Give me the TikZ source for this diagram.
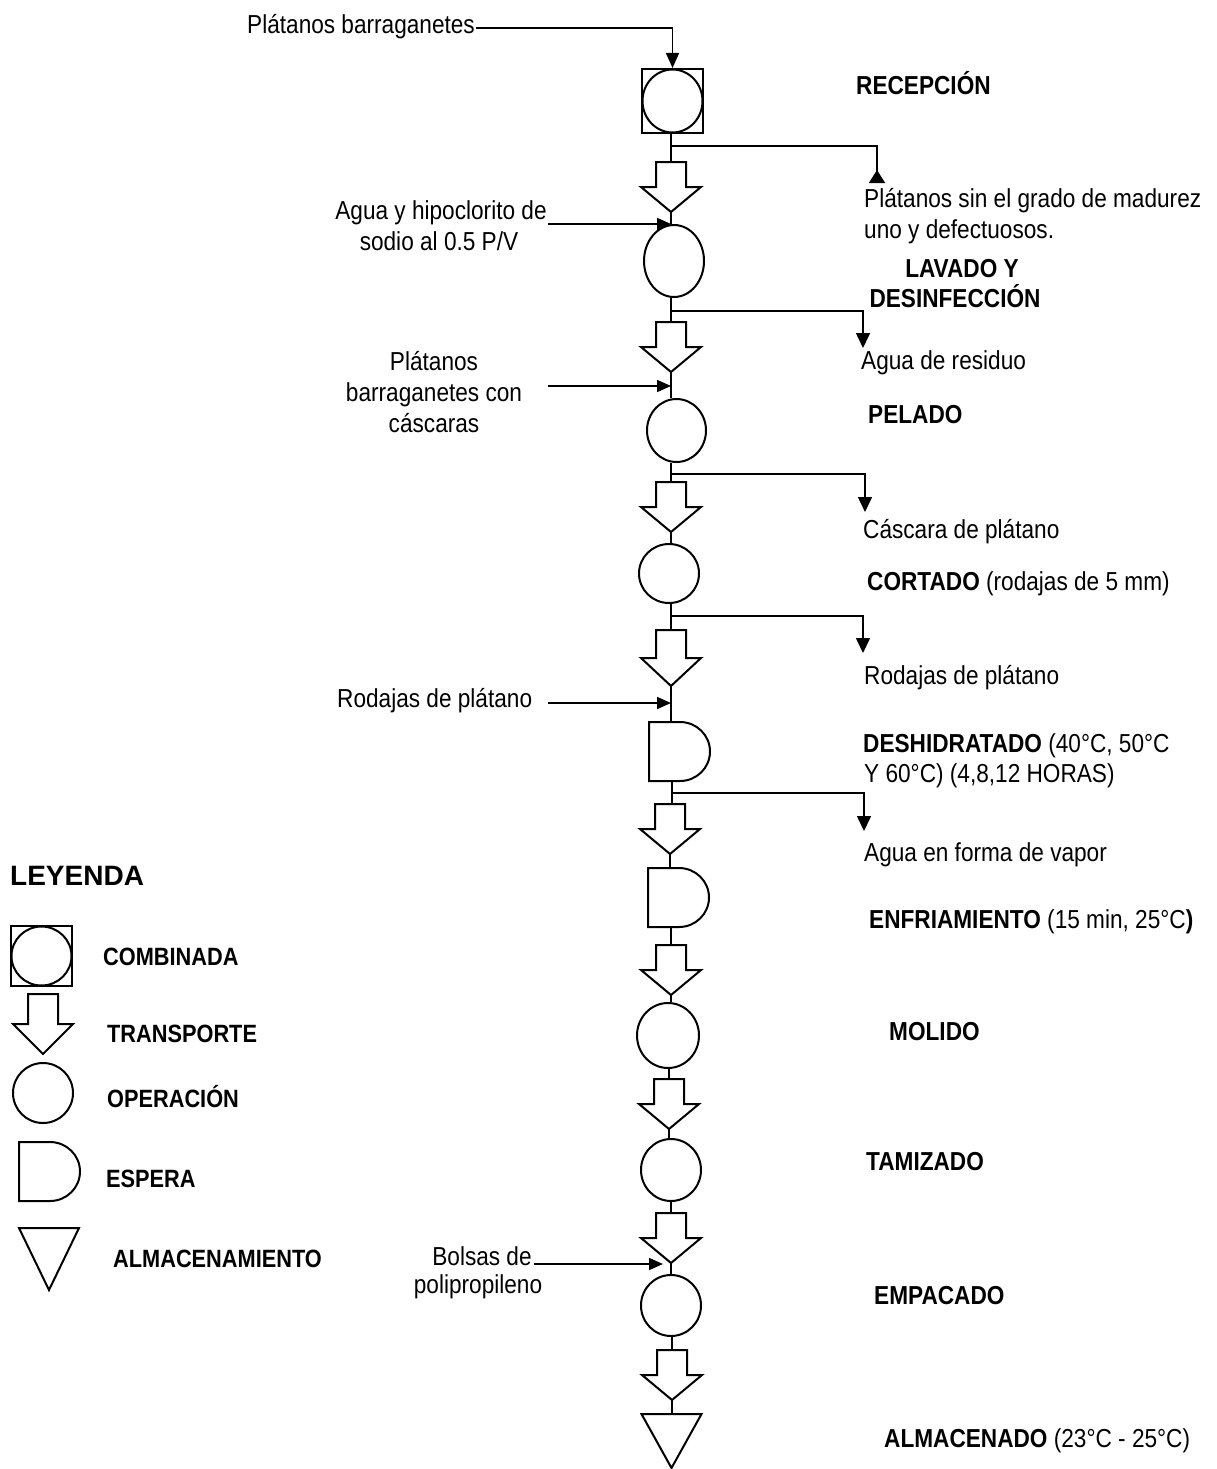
\documentclass[tikz,border=0pt]{standalone}
\usepackage{fontspec}
\setmainfont[FakeStretch=0.87]{Liberation Sans}
\newfontfamily\legfont{Liberation Sans}
\usetikzlibrary{shapes.geometric,arrows.meta}
\newcommand\fsz{\fontsize{26}{30}\selectfont}
\newcommand\fsl{\fontsize{25}{28}\selectfont}
\tikzset{
  shp/.style={draw,line width=2pt},
  opn/.style={shp,ellipse,inner sep=0pt},
  ln/.style={draw,line width=1.6pt},
  inarr/.style={ln,-{Triangle[length=14pt,width=12pt]}},
  inarrtop/.style={ln,-{Triangle[length=15pt,width=13pt]}},
  outarr/.style={ln,-{Triangle[length=15pt,width=14pt]}},
  revarr/.style={ln,-{Triangle[reversed,length=13pt,width=16pt]}},
  txt/.style={font=\fsz,inner sep=0pt,anchor=base west},
  txtc/.style={font=\fsz,inner sep=0pt,anchor=base},
  lab/.style={font=\fsz\bfseries,inner sep=0pt,anchor=base west},
  labc/.style={font=\fsz\bfseries,inner sep=0pt,anchor=base},
  leg/.style={font=\fsl\bfseries,inner sep=0pt,anchor=base west},
  transp/.pic={
    \draw[shp] (-15,0) -- (15,0) -- (15,#1) -- (30,#1) -- (0,2*#1) -- (-30,#1) -- (-15,#1) -- cycle;
    \coordinate (-n) at (0,0);
    \coordinate (-s) at (0,2*#1);
  },
  esp/.pic={
    \draw[shp] (-23,0) -- (8,0) arc[start angle=-90,end angle=90,x radius=30,y radius=29.5] -- (-23,59) -- cycle;
    \coordinate (-n) at (0,0);
    \coordinate (-s) at (0,59);
  },
  store/.pic={
    \draw[shp] (-30,0) -- (30,0) -- (0,#1) -- cycle;
    \coordinate (-n) at (0,0);
  }
}
\begin{document}
\begin{tikzpicture}[x=1pt,y=-1pt]
\fill[white] (0,0) rectangle (1216,1469);
\useasboundingbox (0,0) rectangle (1216,1469);

% ---------- main column ----------
\node[shp,minimum width=61pt,minimum height=64pt,inner sep=0pt] (rec) at (672.5,101) {};
\node[opn,minimum width=60pt,minimum height=63pt] (recc) at (rec.center) {};
\pic (t1) at (671,162) {transp=25};
\node[opn,minimum width=60pt,minimum height=72pt] (o1) at (674,261) {};
\pic (t2) at (671,322) {transp=25};
\node[opn,minimum width=59pt,minimum height=63pt] (o2) at (676.5,430.5) {};
\pic (t3) at (671,482) {transp=25};
\node[opn,minimum width=60pt,minimum height=59pt] (o3) at (669,573.5) {};
\pic (t4) at (671,630) {transp=28};
\pic (d1) at (672,722) {esp};
\pic (t5) at (670,804) {transp=25};
\pic (d2) at (671,868) {esp};
\pic (t6) at (671,945) {transp=25};
\node[opn,minimum width=62pt,minimum height=65pt] (o4) at (668,1035.5) {};
\pic (t7) at (669,1079) {transp=25};
\node[opn,minimum width=60pt,minimum height=62pt] (o5) at (671,1170) {};
\pic (t8) at (671,1213) {transp=25};
\node[opn,minimum width=60pt,minimum height=61pt] (o6) at (671,1305.5) {};
\pic (t9) at (672,1350) {transp=25};
\pic (st) at (671.5,1414) {store=54};

% stems
\draw[ln] (t1-n |- rec.south) -- (t1-n);
\draw[ln] (t1-s) -- (t1-s |- o1.north);
\draw[ln] (t2-n |- o1.south) -- (t2-n);
\draw[ln] (t2-s) -- (t2-s |- o2.north);
\draw[ln] (t3-n |- o2.south) -- (t3-n);
\draw[ln] (t3-s) -- (t3-s |- o3.north);
\draw[ln] (t4-n |- o3.south) -- (t4-n);
\draw[ln] (t4-s) -- (t4-s |- d1-n);
\draw[ln] (d1-s) -- (d1-s |- t5-n);
\draw[ln] (t5-s) -- (t5-s |- d2-n);
\draw[ln] (d2-s) -- (d2-s |- t6-n);
\draw[ln] (t6-s) -- (t6-s |- o4.north);
\draw[ln] (t7-n |- o4.south) -- (t7-n);
\draw[ln] (t7-s) -- (t7-s |- o5.north);
\draw[ln] (t8-n |- o5.south) -- (t8-n);
\draw[ln] (t8-s) -- (t8-s |- o6.north);
\draw[ln] (t9-n |- o6.south) -- (t9-n);
\draw[ln] (t9-s) -- (t9-s |- st-n);

% outputs (branches)
\coordinate (b1) at (672,146); \coordinate (w1) at (877,183);
\coordinate (b2) at (672,311); \coordinate (w2) at (863,348);
\coordinate (b3) at (672,474); \coordinate (w3) at (865,512);
\coordinate (b4) at (672,616); \coordinate (w4) at (863,653);
\coordinate (b5) at (672,793); \coordinate (w5) at (864,831);
\draw[revarr] (b1) -| (w1);
\draw[outarr] (b2) -| (w2);
\draw[outarr] (b3) -| (w3);
\draw[outarr] (b4) -| (w4);
\draw[outarr] (b5) -| (w5);

% left texts
\node[txt] (in0) at (247,34) {Plátanos barraganetes};
\node[txtc] (in1a) at (441,219) {Agua y hipoclorito de};
\node[txtc] (in1b) at (439,250) {sodio al 0.5 P/V};
\node[txtc] (in2a) at (434,370) {Plátanos};
\node[txtc] (in2b) at (434,401) {barraganetes con};
\node[txtc] (in2c) at (434,432) {cáscaras};
\node[txt] (in3) at (337,707) {Rodajas de plátano};
\node[txtc] (in4a) at (482,1265) {Bolsas de};
\node[txtc] (in4b) at (478,1293) {polipropileno};

% inputs
\coordinate (a0) at ([xshift=1pt]in0.east |- 0,28);
\coordinate (a1) at (548,224);
\coordinate (a2) at (548,386);
\coordinate (a3) at (548,703);
\coordinate (a4) at ([xshift=2pt]in4a.east |- 0,1264); \coordinate (a4e) at (663,1264);
\draw[inarrtop] (a0) -| (rec.north);
\draw[inarr] (a1) -- (a1 -| t1-s);
\draw[inarr] (a2) -- (a2 -| t2-s);
\draw[inarr] (a3) -- (a3 -| t4-s);
\draw[inarr] (a4) -- (a4e);

% right texts
\node[lab] (l1) at (856,95) {RECEPCIÓN};
\node[txt] (r1a) at (864,207) {Plátanos sin el grado de madurez};
\node[txt] (r1b) at (864,238) {uno y defectuosos.};
\node[labc] (l2a) at (962,277) {LAVADO Y};
\node[labc] (l2b) at (955,307) {DESINFECCIÓN};
\node[txt] (r2) at (861,369) {Agua de residuo};
\node[lab] (l3) at (868,423) {PELADO};
\node[txt] (r3) at (863,538) {Cáscara de plátano};
\node[txt] (l4) at (867,590) {\bfseries CORTADO\mdseries\ (rodajas de 5 mm)};
\node[txt] (r4) at (864,684) {Rodajas de plátano};
\node[txt] (l5a) at (863,752) {\bfseries DESHIDRATADO\mdseries\ (40°C, 50°C};
\node[txt] (l5b) at (864,782) {Y 60°C) (4,8,12 HORAS)};
\node[txt] (r5) at (864,861) {Agua en forma de vapor};
\node[txt] (l6) at (869,928) {\bfseries ENFRIAMIENTO\mdseries\ (15 min, 25°C\textbf{)}};
\node[lab] (l7) at (889,1040) {MOLIDO};
\node[lab] (l8) at (866,1170) {TAMIZADO};
\node[lab] (l9) at (874,1304) {EMPACADO};
\node[txt] (l10) at (884,1447) {\bfseries ALMACENADO\mdseries\ (23°C - 25°C)};

% ---------- legend ----------
\node[inner sep=0pt,anchor=base west,font=\legfont\fontsize{28}{32}\selectfont\bfseries] (leyenda) at (10,885) {LEYENDA};
\node[shp,minimum width=61pt,minimum height=60pt,inner sep=0pt] (gcomb) at (41.5,956) {};
\node[opn,minimum width=60pt,minimum height=59pt] (gcombc) at (gcomb.center) {};
\pic (gtr) at (43,994) {transp=30};
\node[opn,minimum width=60pt,minimum height=60pt] (gop) at (43,1093) {};
\pic (gesp) at (42,1142) {esp};
\pic (gst) at (49,1228) {store=62};
\node[leg] (gl1) at (103,965) {COMBINADA};
\node[leg] (gl2) at (107,1042) {TRANSPORTE};
\node[leg] (gl3) at (107,1107) {OPERACIÓN};
\node[leg] (gl4) at (106,1187) {ESPERA};
\node[leg] (gl5) at (113,1267) {ALMACENAMIENTO};
\end{tikzpicture}
\end{document}
